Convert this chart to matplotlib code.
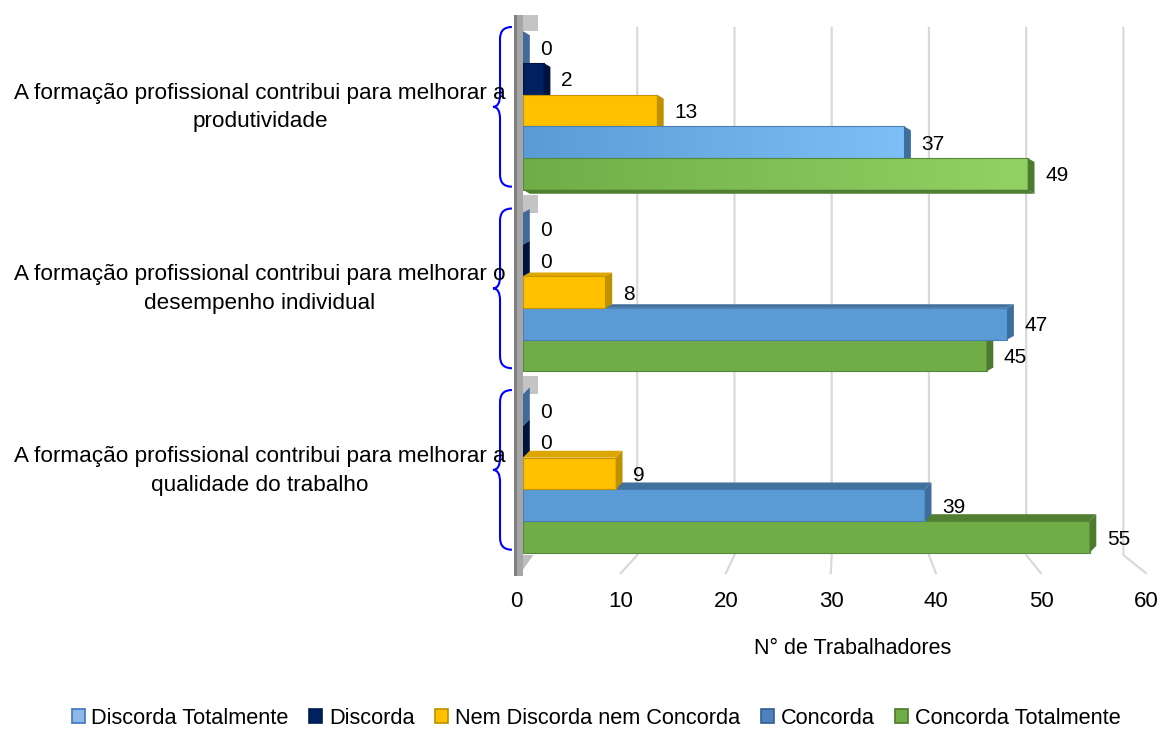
import numpy as np
import matplotlib
matplotlib.use('Agg')
import matplotlib.pyplot as plt
from matplotlib.patches import Polygon, Patch, Rectangle, PathPatch
from matplotlib.path import Path
from matplotlib.colors import LinearSegmentedColormap

plt.rcParams['font.family'] = ['Liberation Sans', 'DejaVu Sans']

# Data
categories = [
    'A formação profissional contribui para melhorar a\nprodutividade',
    'A formação profissional contribui para melhorar o\ndesempenho individual',
    'A formação profissional contribui para melhorar a\nqualidade do trabalho',
]
series = ['Discorda Totalmente', 'Discorda', 'Nem Discorda nem Concorda',
          'Concorda', 'Concorda Totalmente']
discorda_totalmente = [0, 0, 0]
discorda = [2, 0, 0]
nem_discorda_nem_concorda = [13, 8, 9]
concorda = [37, 47, 39]
concorda_totalmente = [49, 45, 55]
x_ticks = [0, 10, 20, 30, 40, 50, 60]

values = [discorda_totalmente, discorda, nem_discorda_nem_concorda,
          concorda, concorda_totalmente]

# Colours (front, top face, side face, edge) and legend swatches
front_col = ['#5A8CC2', '#002060', '#FFC000', '#5B9BD5', '#70AD47']
top_col = ['#78A8DA', '#0B2C6E', '#DDA600', '#41719C', '#507E32']
side_col = ['#41699A', '#00133D', '#BF9000', '#3E6E9E', '#4E7A30']
edge_col = ['#3F6A99', '#001540', '#C49300', '#4A80B5', '#55883A']
light_col = ['#5A8CC2', '#002060', '#FFC000', '#7FBFF7', '#93D165']
leg_face = ['#8DB8E8', '#002060', '#FFC000', '#4F81BD', '#70AD47']
leg_edge = ['#3C78C3', '#001A50', '#C09000', '#2F5F94', '#4A7A2C']

bar_h = 0.1747          # height of one bar (group spacing = 1)
dx = 0.66               # depth offset along x
group_dy = [-0.022, 0.02, 0.038]   # depth offset along y, per group (perspective)

def back_x(v):
    return 1.65 + 0.944 * v

def front_x(v):
    return -0.68 + 1.019 * v

fig = plt.figure(figsize=(11.66, 7.31), dpi=100)
ax = fig.add_axes([523 / 1166, 1 - 573 / 731, 618 / 1166, 558 / 731])
for s in ax.spines.values():
    s.set_visible(False)
ax.set_xticks([])
ax.set_yticks([])

# floor edge carries the value axis (front of the 3D box)
ax_floor = fig.add_axes([516 / 1166, 1 - 573 / 731, 630 / 1166, 0.001])
ax_floor.set_xlim(0, 60)
ax_floor.set_xticks(x_ticks)
ax_floor.set_xticklabels([str(v) for v in x_ticks], fontsize=16)
ax_floor.tick_params(axis='x', length=0, pad=13)
ax_floor.set_yticks([])
ax_floor.patch.set_visible(False)
for s in ax_floor.spines.values():
    s.set_visible(False)

# back wall gridlines and floor lines
y_grid_top, y_floor_back, y_floor_front = -0.455, 2.449, 2.548
for v in x_ticks[1:]:
    ax.plot([back_x(v), back_x(v), front_x(v)],
            [y_grid_top, y_floor_back, y_floor_front],
            color='#D9D9D9', lw=1.6, zorder=1, clip_on=False)

# side wall
ax.add_patch(Rectangle((-0.87, -0.526), 0.29, 3.09, fc='#7F7F7F', ec='none',
                       zorder=2, clip_on=False))
ax.add_patch(Rectangle((-0.58, -0.526), 0.58, 3.09, fc='#A6A6A6', ec='none',
                       zorder=2, clip_on=False))
ax.add_patch(Polygon([(0, y_floor_back), (1.0, y_floor_back), (0, 2.53)],
                     closed=True, fc='#BDBDBD', ec='none', zorder=2))

centers = np.arange(len(categories))
for i, c in enumerate(centers):
    dy = group_dy[i]
    g_top = c - 2.5 * bar_h
    ax.add_patch(Rectangle((0, g_top - 0.1), 1.45, 0.1, fc='#C4C4C4',
                           ec='none', zorder=2))
    # seen from below -> draw top bar first; seen from above -> bottom bar first
    order = range(len(series)) if dy < 0 else reversed(range(len(series)))
    for j in order:
        v = values[j][i]
        y = c + (j - 2) * bar_h
        z = 3 + (j if dy < 0 else len(series) - j)
        top, bot = y - bar_h / 2, y + bar_h / 2
        edge = bot if dy < 0 else top
        ax.barh(y, v, height=bar_h, color=front_col[j], edgecolor='none', zorder=z)
        if i == 0 and j >= 3:
            cmap = LinearSegmentedColormap.from_list('shade', [front_col[j], light_col[j]])
            ax.imshow(np.linspace(0, 1, 256).reshape(1, -1), cmap=cmap, aspect='auto',
                      extent=(0, v, bot, top), interpolation='bilinear', zorder=z)
        if v > 0:
            ax.barh(y, v, height=bar_h, fill=False, edgecolor=edge_col[j], lw=0.8,
                    zorder=z)
        ax.add_patch(Polygon([(0, edge), (v, edge), (v + dx, edge - dy), (dx, edge - dy)],
                             closed=True, fc=top_col[j], ec='none', zorder=z))
        ax.add_patch(Polygon([(v, top), (v + dx, top - dy), (v + dx, bot - dy), (v, bot)],
                             closed=True, fc=side_col[j], ec='none', zorder=z))
        ax.annotate(str(v), (v, y), xytext=(12.5, -1.5), textcoords='offset points',
                    ha='left', va='center', fontsize=15, color='black', zorder=20)

    # curly brace next to each group
    yc = c - 0.02
    half, r = 0.44, 0.066
    xe, xm, xc = -1.07, -2.23, -2.91
    verts = [(xe, yc - half), (xm, yc - half), (xm, yc - half + r),
             (xm, yc - r), (xm, yc), (xc, yc),
             (xm, yc), (xm, yc + r),
             (xm, yc + half - r), (xm, yc + half), (xe, yc + half)]
    codes = [Path.MOVETO, Path.CURVE3, Path.CURVE3,
             Path.LINETO, Path.CURVE3, Path.CURVE3,
             Path.CURVE3, Path.CURVE3,
             Path.LINETO, Path.CURVE3, Path.CURVE3]
    ax.add_patch(PathPatch(Path(verts, codes), fc='none', ec='#0000FF', lw=1.5,
                           zorder=6, clip_on=False))

    fig.text(260 / 1166, 1 - (110.5 + c * 181.5 - 3) / 731, categories[i],
             ha='center', va='center', fontsize=16.2, linespacing=1.5)

ax.set_xlim(0, 60)
ax.set_ylim(2.548, -0.526)

fig.text(853 / 1166, 1 - 648 / 731, 'N° de Trabalhadores', ha='center',
         va='center', fontsize=15.5)

handles = [Patch(facecolor=leg_face[k], edgecolor=leg_edge[k], lw=1.2, label=series[k])
           for k in range(len(series))]
fig.legend(handles=handles, loc='center', bbox_to_anchor=(596 / 1166, 1 - 718 / 731),
           ncol=5, frameon=False, fontsize=15.7, handlelength=0.6, handleheight=0.6,
           handletextpad=0.3, columnspacing=0.95, borderaxespad=0)

fig.savefig('out.png', dpi=100)
